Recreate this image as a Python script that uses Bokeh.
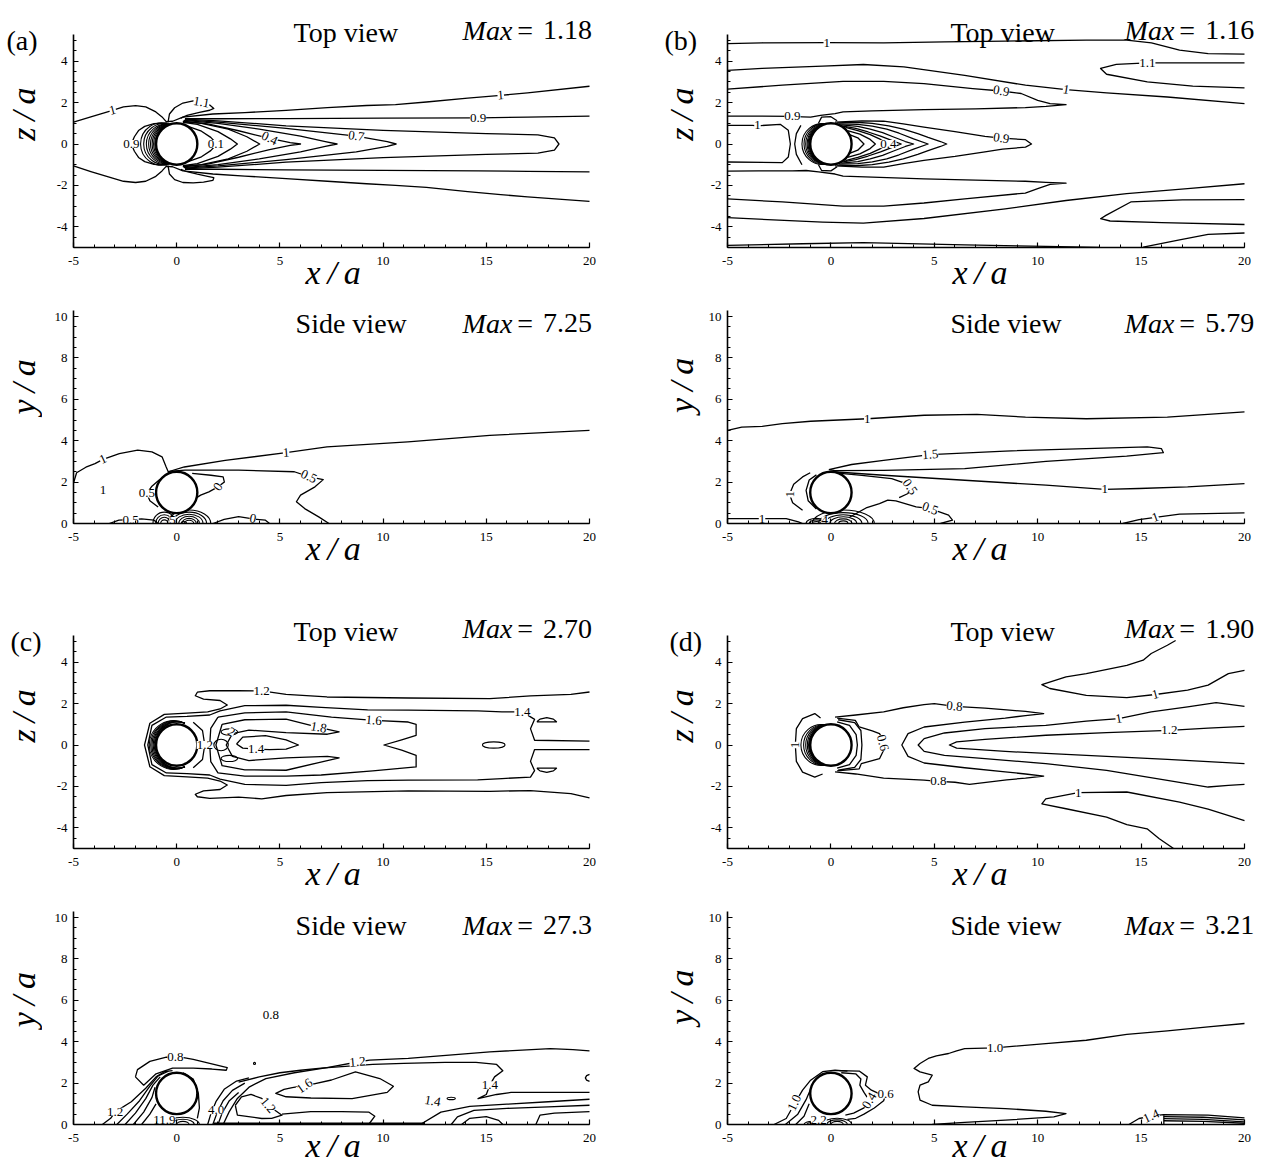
import math
from bokeh.plotting import figure
from bokeh.layouts import column, row
from bokeh.models import Label, FixedTicker, Range1d
from bokeh.core.properties import value
from bokeh.embed import file_html
from bokeh.resources import INLINE

SERIF = "Liberation Serif"

# ---------------------------------------------------------------- axes
X_TICKS = [-5, 0, 5, 10, 15, 20]
X_MINOR = [-5, -4, -3, -2, -1, 0, 1, 2, 3, 4, 5, 6, 7, 8, 9, 10,
           11, 12, 13, 14, 15, 16, 17, 18, 19, 20]
TOP_Y_TICKS = [-4, -2, 0, 2, 4]
TOP_Y_MINOR = [-5.0, -4.5, -4.0, -3.5, -3.0, -2.5, -2.0, -1.5, -1.0, -0.5, 0.0,
               0.5, 1.0, 1.5, 2.0, 2.5, 3.0, 3.5, 4.0, 4.5, 5.0]
SIDE_Y_TICKS = [0, 2, 4, 6, 8, 10]
SIDE_Y_MINOR = [0.0, 0.5, 1.0, 1.5, 2.0, 2.5, 3.0, 3.5, 4.0, 4.5, 5.0, 5.5, 6.0,
                6.5, 7.0, 7.5, 8.0, 8.5, 9.0, 9.5, 10.0]
X_SPAN = (-5, 20)
TOP_Y_SPAN = (-5, 5.3)
SIDE_Y_SPAN = (0, 10.27)
# plain hyphen for negative tick labels
X_TICK_TEXT = {-5: "-5"}
TOP_Y_TICK_TEXT = {-4: "-4", -2: "-2"}

PANEL_TAGS = ["(a)", "(b)", "(c)", "(d)"]
TOP_MAX = ["1.18", "1.16", "2.70", "1.90"]
SIDE_MAX = ["7.25", "5.79", "27.3", "3.21"]

# ---------------------------------------------------------------- case (a), top view
a_top_one_up = [(-5.0, 1.06), (-4.16, 1.31), (-3.27, 1.58), (-2.58, 1.79), (-1.99, 1.85), (-1.5, 1.79),
                (-1.01, 1.55), (-0.71, 1.31), (-0.51, 1.08), (-0.2, 1.1), (0.3, 1.3), (1.75, 1.45),
                (3.3, 1.52), (5.3, 1.62), (7.3, 1.76), (9.2, 1.86), (10.6, 1.9), (12.1, 2.03),
                (14.1, 2.22), (15.7, 2.35), (17.0, 2.47), (20.0, 2.79)]
a_top_one_dn = [(-5.0, -1.06), (-4.16, -1.33), (-3.27, -1.6), (-2.58, -1.8), (-1.99, -1.86), (-1.5, -1.8),
                (-1.01, -1.56), (-0.71, -1.3), (-0.51, -1.08), (-0.2, -1.1), (0.3, -1.3), (1.75, -1.45),
                (3.3, -1.55), (5.3, -1.67), (7.3, -1.8), (9.2, -1.92), (10.6, -2.0), (12.1, -2.1),
                (14.1, -2.3), (15.7, -2.45), (17.0, -2.55), (20.0, -2.77)]
a_top_11_up = [(-0.42, 1.05), (-0.35, 1.45), (-0.1, 1.75), (0.3, 1.98), (0.8, 2.08), (1.2, 2.02),
               (1.6, 1.88), (1.8, 1.72), (1.6, 1.63), (1.1, 1.53), (0.5, 1.38), (0.2, 1.25)]
a_top_11_dn = [(-0.42, -1.05), (-0.35, -1.45), (-0.1, -1.72), (0.3, -1.86), (0.8, -1.88), (1.3, -1.84),
               (1.75, -1.76), (1.8, -1.63), (1.5, -1.56), (1.0, -1.46), (0.5, -1.34), (0.2, -1.22)]
a_top_09_front = [(-0.45, 1.02), (-1.1, 0.98), (-1.55, 0.85), (-1.85, 0.65), (-2.05, 0.35), (-2.2, 0.0),
                  (-2.05, -0.35), (-1.85, -0.65), (-1.55, -0.85), (-1.1, -0.98), (-0.45, -1.02)]
a_top_09_up = [(0.4, 1.22), (2.0, 1.22), (5.3, 1.23), (10.0, 1.25), (14.6, 1.26), (17.0, 1.3), (20.0, 1.35)]
a_top_09_dn = [(0.4, -1.22), (2.0, -1.22), (5.3, -1.25), (10.0, -1.27), (14.6, -1.3), (17.0, -1.32), (20.0, -1.35)]
a_top_wake_01 = [(0.55, 0.85), (1.2, 0.62), (1.65, 0.32), (1.95, 0.0), (1.65, -0.32), (1.2, -0.62), (0.55, -0.85)]
a_top_wake_02 = [(0.3, 1.05), (1.0, 0.95), (2.0, 0.6), (2.6, 0.25), (2.94, 0.0), (2.6, -0.25), (2.0, -0.6),
                 (1.0, -0.95), (0.3, -1.05)]
a_top_wake_03 = [(0.3, 1.08), (1.2, 1.0), (2.5, 0.72), (3.4, 0.35), (4.02, 0.0), (3.4, -0.35), (2.5, -0.72),
                 (1.2, -1.0), (0.3, -1.08)]
a_top_wake_04 = [(0.3, 1.1), (1.5, 0.97), (3.0, 0.64), (4.5, 0.27), (5.5, 0.07), (6.0, 0.0), (5.5, -0.07),
                 (4.5, -0.27), (3.0, -0.64), (1.5, -0.97), (0.3, -1.1)]
a_top_wake_05 = [(0.35, 1.14), (2.0, 1.0), (4.0, 0.72), (6.0, 0.38), (7.2, 0.12), (7.77, 0.0), (7.2, -0.12),
                 (6.0, -0.38), (4.0, -0.72), (2.0, -1.0), (0.35, -1.14)]
a_top_wake_07 = [(0.4, 1.17), (2.0, 1.06), (5.3, 0.75), (8.7, 0.38), (10.2, 0.12), (10.63, 0.0), (10.2, -0.12),
                 (8.7, -0.38), (5.3, -0.75), (2.0, -1.06), (0.4, -1.17)]
a_top_wake_08 = [(0.4, 1.2), (2.0, 1.12), (5.3, 0.88), (10.0, 0.66), (15.0, 0.5), (17.5, 0.44), (18.3, 0.3),
                 (18.52, 0.0), (18.3, -0.3), (17.5, -0.44), (15.0, -0.5), (10.0, -0.66), (5.3, -0.88),
                 (2.0, -1.12), (0.4, -1.2)]
a_top_front_reach = [1.75, 1.6, 1.47, 1.36, 1.27, 1.19, 1.12, 1.06]
a_top_tags = [("1", -3.1, 1.63, 15), ("1.1", 1.2, 2.02, -10), ("1", 15.7, 2.35, 5), ("0.9", 14.6, 1.26, 0),
              ("0.9", -2.2, 0.0, 0), ("0.1", 1.9, 0.0, 0), ("0.4", 4.5, 0.27, -25), ("0.7", 8.7, 0.38, -8)]

# ---------------------------------------------------------------- case (a), side view
a_side_one = [(-5.0, 1.95), (-4.85, 2.45), (-4.4, 2.72), (-3.96, 2.89), (-3.57, 3.1), (-2.78, 3.38),
              (-1.89, 3.54), (-1.2, 3.46), (-0.71, 3.22), (-0.51, 2.73), (-0.41, 2.5), (0.37, 2.73),
              (2.35, 3.05), (5.3, 3.42), (7.28, 3.7), (11.2, 3.94), (15.17, 4.26), (20.0, 4.5)]
a_side_05 = [(-0.35, 2.52), (0.4, 2.58), (3.0, 2.58), (5.7, 2.5), (6.4, 2.27), (7.1, 2.12), (6.7, 1.77),
             (6.0, 1.37), (5.8, 1.05), (6.2, 0.72), (6.88, 0.32), (7.38, 0.0)]
a_side_0_right = [(0.75, 2.42), (1.66, 2.33), (2.25, 2.25), (2.31, 2.0), (2.0, 1.77), (1.56, 1.53),
                  (1.16, 1.37), (0.97, 1.25)]
a_side_05_left = [(-0.5, 2.35), (-0.85, 2.1), (-1.2, 1.8), (-1.45, 1.45), (-1.3, 1.1), (-0.9, 0.8)]
a_side_05_ground = [(-3.27, 0.0), (-2.8, 0.16), (-2.23, 0.19), (-1.7, 0.22), (-1.1, 0.16), (-0.9, 0.0)]
a_side_0_ground = [(1.76, 0.0), (2.3, 0.2), (3.0, 0.33), (3.69, 0.22), (4.3, 0.16), (4.5, 0.0)]
a_side_loop_x = [-0.6, -0.6, -0.6, -0.6, 0.6, 0.6, 0.6, 0.6, 0.6, 0.6, 0.35]
a_side_loop_w = [1.1, 0.85, 0.6, 0.35, 2.1, 1.7, 1.35, 1.0, 0.7, 0.45, 0.25]
a_side_loop_h = [1.1, 0.85, 0.6, 0.35, 1.3, 1.1, 0.9, 0.7, 0.5, 0.32, 0.18]
a_side_tags = [("1", -3.57, 3.1, 25), ("1", 5.3, 3.42, 5), ("0.5", 6.4, 2.27, -25), ("0", 2.0, 1.77, 55),
               ("0.5", -1.45, 1.45, 0), ("0.5", -2.23, 0.19, 0), ("0", 3.69, 0.24, -10), ("5", -0.2, 0.16, 0)]
a_side_free = [("1", -3.57, 1.6)]

# ---------------------------------------------------------------- case (b), top view
b_top_one_top = [(-5.0, 4.85), (-3.33, 4.89), (-0.2, 4.9), (2.55, 4.89), (5.5, 4.93), (8.43, 4.97),
                 (12.35, 5.02), (14.3, 5.02), (15.5, 4.89), (16.86, 4.53), (18.24, 4.37), (20.0, 4.34)]
b_top_one_up = [(-5.0, 3.56), (-3.33, 3.65), (-0.4, 3.76), (1.57, 3.84), (3.53, 3.73), (6.47, 3.32),
                (9.41, 2.84), (11.37, 2.63), (13.33, 2.47), (16.27, 2.27), (20.0, 1.95)]
b_top_09_up = [(-5.0, 2.65), (-2.35, 2.84), (0.59, 3.03), (2.55, 3.03), (4.5, 2.92), (6.86, 2.68),
               (8.24, 2.56), (9.2, 2.44), (10.0, 2.11), (10.6, 1.95), (11.37, 1.9), (10.4, 1.82),
               (9.4, 1.76), (7.0, 1.7), (4.5, 1.66), (2.0, 1.6), (0.59, 1.55), (0.2, 1.47), (-0.5, 1.38),
               (-0.98, 1.3), (-1.37, 1.31), (-1.86, 1.33), (-3.5, 1.35), (-5.0, 1.35)]
b_top_09_dn = [(-5.0, -1.31), (-3.5, -1.3), (-1.86, -1.3), (-1.2, -1.28), (-0.6, -1.35), (0.2, -1.45),
               (0.59, -1.55), (2.0, -1.6), (4.5, -1.68), (7.0, -1.75), (9.4, -1.8), (10.4, -1.85),
               (11.37, -1.89), (10.6, -1.95), (10.0, -2.16), (9.4, -2.37), (6.47, -2.65), (4.5, -2.85),
               (2.55, -3.0), (0.59, -3.0), (-2.35, -2.8), (-5.0, -2.65)]
b_top_one_dn = [(-5.0, -3.56), (-2.0, -3.7), (-0.4, -3.77), (1.57, -3.82), (4.5, -3.6), (8.43, -3.13),
                (11.37, -2.73), (14.3, -2.4), (17.25, -2.16), (20.0, -1.92)]
b_top_one_bot = [(-5.0, -4.9), (-1.37, -4.82), (1.57, -4.76), (6.47, -4.87), (10.4, -4.95), (13.0, -4.99)]
b_top_one_bot_r = [(15.1, -4.98), (16.86, -4.63), (18.24, -4.37), (20.0, -4.3)]
b_top_11_up = [(20.0, 3.92), (15.3, 3.92), (13.8, 3.85), (13.04, 3.65), (13.33, 3.37), (15.3, 3.0),
               (17.5, 2.8), (20.0, 2.71)]
b_top_11_dn = [(20.0, -2.69), (17.0, -2.7), (14.5, -2.8), (13.3, -3.45), (13.04, -3.61), (13.5, -3.72),
               (16.0, -3.8), (20.0, -3.89)]
b_top_one_box = [(-5.0, 0.9), (-3.8, 0.9), (-3.53, 0.88), (-2.45, 0.95), (-2.06, 0.66), (-1.96, 0.0),
                 (-2.06, -0.63), (-2.35, -0.9), (-5.0, -0.87)]
b_top_front = [(-1.45, 0.9), (-1.67, 0.5), (-1.75, 0.0), (-1.67, -0.5), (-1.4, -1.0)]
b_top_cap_up = [(-0.6, 1.0), (-0.45, 1.3), (0.0, 1.32), (0.3, 1.12)]
b_top_cap_dn = [(-0.6, -1.0), (-0.45, -1.28), (0.0, -1.3), (0.3, -1.1)]
b_top_wake_09 = [(0.2, 1.06), (1.5, 1.12), (2.55, 1.1), (3.5, 0.97), (4.5, 0.82), (6.0, 0.6), (7.45, 0.37),
                 (8.24, 0.28), (9.41, 0.21), (9.7, 0.0), (9.41, -0.15), (8.3, -0.25), (7.45, -0.38),
                 (6.0, -0.6), (4.5, -0.79), (3.5, -0.95), (2.55, -1.12), (1.5, -1.12), (0.2, -1.06)]
b_top_wake_08 = [(0.3, 1.02), (1.2, 1.05), (2.0, 1.0), (2.8, 0.88), (3.5, 0.72), (4.2, 0.5), (4.7, 0.32),
                 (5.3, 0.12), (5.6, 0.0), (5.3, -0.12), (4.7, -0.32), (4.2, -0.5), (3.5, -0.72),
                 (2.8, -0.88), (2.0, -1.0), (1.2, -1.05), (0.3, -1.02)]
b_top_wake_07 = [(0.4, 0.97), (1.3, 0.95), (2.0, 0.86), (2.7, 0.72), (3.3, 0.52), (4.0, 0.25), (4.7, 0.0),
                 (4.0, -0.25), (3.3, -0.52), (2.7, -0.72), (2.0, -0.86), (1.3, -0.95), (0.4, -0.97)]
b_top_wake_06 = [(0.5, 0.92), (1.3, 0.85), (1.9, 0.72), (2.5, 0.55), (3.0, 0.35), (3.6, 0.12), (4.0, 0.0),
                 (3.6, -0.12), (3.0, -0.35), (2.5, -0.55), (1.9, -0.72), (1.3, -0.85), (0.5, -0.92)]
b_top_wake_05 = [(0.6, 0.86), (1.2, 0.75), (1.8, 0.58), (2.4, 0.38), (3.0, 0.15), (3.4, 0.0), (3.0, -0.15),
                 (2.4, -0.38), (1.8, -0.58), (1.2, -0.75), (0.6, -0.86)]
b_top_wake_04 = [(0.7, 0.8), (1.3, 0.65), (1.9, 0.45), (2.4, 0.22), (2.78, 0.0), (2.4, -0.22), (1.9, -0.45),
                 (1.3, -0.65), (0.7, -0.8)]
b_top_wake_03 = [(0.8, 0.65), (1.4, 0.48), (1.9, 0.22), (2.15, 0.0), (1.9, -0.22), (1.4, -0.48), (0.8, -0.65)]
b_top_wake_02 = [(0.9, 0.45), (1.3, 0.3), (1.6, 0.0), (1.3, -0.3), (0.9, -0.45)]
b_top_front_reach = [1.4, 1.3, 1.22, 1.15, 1.1, 1.06, 1.03]
b_top_tags = [("1", -0.2, 4.9, 0), ("1", 11.37, 2.63, -10), ("0.9", 8.24, 2.56, -10), ("0.9", -1.86, 1.33, 0),
              ("1", -3.55, 0.9, 0), ("1.1", 15.3, 3.92, 0), ("0.9", 8.24, 0.28, -8), ("0.4", 2.78, 0.0, 0)]

# ---------------------------------------------------------------- case (b), side view
b_side_one_top = [(-5.0, 4.5), (-4.31, 4.66), (-3.33, 4.69), (-2.35, 4.82), (-0.98, 4.94), (1.76, 5.06),
                  (4.51, 5.23), (7.06, 5.27), (9.41, 5.14), (12.35, 5.06), (16.27, 5.14), (20.0, 5.39)]
b_side_15 = [(-0.1, 2.6), (1.0, 2.85), (2.55, 3.05), (4.8, 3.33), (8.43, 3.5), (12.35, 3.62), (15.3, 3.7),
             (15.98, 3.62), (16.08, 3.42), (14.3, 3.25), (10.4, 3.0), (6.47, 2.65), (2.55, 2.57),
             (0.2, 2.55), (-0.1, 2.6)]
b_side_one_mid = [(0.1, 2.5), (2.55, 2.33), (6.47, 2.09), (10.4, 1.85), (13.24, 1.65), (14.9, 1.69),
                  (17.25, 1.77), (20.0, 1.93)]
b_side_05_a = [(0.2, 2.45), (1.5, 2.32), (2.94, 2.17), (3.53, 1.96), (3.82, 1.77), (3.73, 1.45), (3.3, 1.25)]
b_side_05_b = [(0.9, 0.3), (1.7, 0.75), (2.35, 0.96), (2.75, 1.13), (3.14, 1.09), (4.12, 0.8), (4.8, 0.72),
               (5.69, 0.4), (5.88, 0.16), (5.3, 0.0)]
b_side_arc_1 = [(-1.0, 2.45), (-1.37, 2.25), (-1.8, 1.9), (-2.0, 1.41), (-1.85, 1.0), (-1.37, 0.64)]
b_side_arc_2 = [(-0.7, 2.35), (-1.05, 2.1), (-1.2, 1.6), (-1.1, 1.1), (-0.7, 0.7)]
b_side_one_gl = [(-5.0, 0.24), (-3.33, 0.24), (-2.16, 0.24), (-1.57, 0.08), (-1.37, 0.0)]
b_side_one_gr = [(14.12, 0.0), (14.9, 0.19), (15.69, 0.3), (16.86, 0.45), (20.0, 0.51)]
b_side_loop_x = [-0.7, -0.7, -0.7, 0.6, 0.6, 0.6, 0.6, 0.6, 0.6]
b_side_loop_w = [1.0, 0.7, 0.4, 3.0, 2.4, 1.8, 1.3, 0.85, 0.45]
b_side_loop_h = [0.5, 0.35, 0.2, 1.3, 1.05, 0.85, 0.65, 0.45, 0.25]
b_side_tags = [("1", 1.76, 5.06, 0), ("1.5", 4.8, 3.33, 5), ("1", 13.24, 1.65, 0), ("0.5", 3.82, 1.77, -55),
               ("0.5", 4.8, 0.72, -20), ("1", -2.0, 1.41, 90), ("1", -3.33, 0.24, 0), ("1", 15.69, 0.3, 20),
               ("4", -0.3, 0.16, 0)]

# ---------------------------------------------------------------- case (c), top view
c_top_12 = [(20.0, 2.56), (19.1, 2.45), (17.14, 2.37), (15.17, 2.24), (11.22, 2.27), (7.28, 2.32),
            (5.3, 2.45), (4.12, 2.61), (3.0, 2.62), (1.6, 2.62), (1.0, 2.55), (0.9, 2.38), (1.3, 2.22),
            (2.1, 2.15), (2.45, 1.93), (2.1, 1.74), (1.5, 1.6), (0.5, 1.54), (-0.6, 1.48), (-1.3, 1.05),
            (-1.56, 0.0), (-1.3, -1.05), (-0.6, -1.48), (0.5, -1.54), (1.5, -1.6), (2.1, -1.74),
            (2.45, -1.93), (2.1, -2.15), (1.3, -2.22), (0.9, -2.38), (1.0, -2.5), (1.6, -2.58),
            (3.0, -2.52), (4.12, -2.6), (5.3, -2.44), (7.28, -2.3), (11.22, -2.22), (15.17, -2.24),
            (17.14, -2.2), (19.1, -2.35), (20.0, -2.56)]
c_top_14 = [(20.0, 0.19), (17.34, 0.23), (17.14, 0.79), (17.34, 1.24), (16.75, 1.6), (15.76, 1.6),
            (14.58, 1.65), (11.22, 1.68), (9.25, 1.7), (7.0, 1.82), (5.3, 1.92), (3.3, 1.9), (2.1, 1.65),
            (1.6, 1.45), (0.5, 1.38), (-0.5, 1.35), (-1.2, 0.95), (-1.4, 0.0), (-1.2, -0.95),
            (-0.5, -1.35), (0.5, -1.38), (1.6, -1.45), (2.1, -1.65), (3.3, -1.9), (5.3, -1.95),
            (7.0, -1.82), (9.25, -1.72), (11.22, -1.7), (14.58, -1.68), (15.76, -1.62), (17.14, -1.55),
            (17.34, -1.24), (17.14, -0.79), (17.34, -0.22), (20.0, -0.22)]
c_top_16 = [(2.0, 1.35), (3.3, 1.55), (5.3, 1.6), (7.5, 1.35), (9.55, 1.19), (11.22, 1.11), (11.6, 1.0),
            (11.6, 0.47), (10.9, 0.25), (10.04, 0.0), (10.9, -0.25), (11.6, -0.5), (11.6, -1.06),
            (9.5, -1.25), (7.0, -1.45), (5.3, -1.5), (3.3, -1.5), (2.0, -1.35), (1.65, -0.8), (1.6, 0.0),
            (1.65, 0.8), (2.0, 1.35)]
c_top_18 = [(2.2, 1.0), (3.3, 1.22), (5.3, 1.25), (6.88, 0.85), (7.87, 0.63), (7.3, 0.52), (5.3, 0.6),
            (3.5, 0.72), (2.7, 0.55), (2.4, 0.0), (2.7, -0.55), (3.5, -0.75), (5.3, -0.62), (7.3, -0.55),
            (7.87, -0.62), (6.88, -0.85), (5.3, -1.22), (3.3, -1.2), (2.2, -1.0), (1.9, 0.0), (2.2, 1.0)]
c_top_14_in = [(2.9, 0.05), (3.2, 0.38), (4.3, 0.45), (5.3, 0.25), (5.9, 0.0), (5.3, -0.2), (4.5, -0.22),
               (3.85, -0.2), (3.2, -0.15), (2.9, 0.05)]
c_top_12_right = [(0.8, 1.1), (1.25, 0.7), (1.36, 0.0), (1.25, -0.7), (0.8, -1.1)]
c_top_dome_up = [(17.45, 1.12), (17.6, 1.25), (17.93, 1.32), (18.25, 1.25), (18.4, 1.12), (17.45, 1.12)]
c_top_dome_dn = [(17.45, -1.12), (17.6, -1.25), (17.93, -1.32), (18.25, -1.25), (18.4, -1.12), (17.45, -1.12)]
c_top_loop_x = [2.15, 2.55, 2.55, 15.36]
c_top_loop_y = [0.0, 0.63, -0.65, 0.0]
c_top_loop_w = [0.7, 0.8, 0.8, 1.1]
c_top_loop_h = [0.55, 0.3, 0.3, 0.3]
c_top_front_reach = [1.33, 1.26, 1.2, 1.14, 1.09, 1.05]
c_top_tags = [("1.2", 4.12, 2.61, 0), ("1.4", 16.75, 1.6, 0), ("1.6", 9.55, 1.19, -5), ("1.8", 6.88, 0.85, -10),
              ("1.4", 3.85, -0.2, 0), ("2", 2.64, 0.62, -30), ("1.2", 1.36, 0.0, 0)]

# ---------------------------------------------------------------- case (c), side view
c_side_12 = [(2.25, 0.0), (2.54, 0.61), (2.94, 1.26), (3.53, 1.82), (4.32, 2.22), (5.7, 2.5), (7.28, 2.75),
             (8.76, 3.02), (9.35, 3.11), (11.22, 3.19), (13.2, 3.35), (15.17, 3.51), (18.1, 3.67),
             (19.2, 3.62), (20.0, 3.56)]
c_side_14 = [(3.0, 2.05), (4.0, 2.3), (5.0, 2.5), (6.0, 2.62), (7.0, 2.72), (8.0, 2.8), (9.5, 2.9),
             (11.0, 2.95), (13.0, 3.0), (14.5, 3.0), (15.5, 2.9), (15.8, 2.6), (15.4, 2.3), (15.17, 1.9),
             (15.0, 1.45), (14.6, 1.25), (15.5, 1.45), (16.2, 1.55), (20.0, 1.55)]
c_side_16 = [(5.6, 1.78), (6.6, 1.95), (7.5, 2.15), (8.66, 2.54), (9.84, 2.22), (10.5, 1.85), (10.2, 1.55),
             (8.5, 1.25), (6.5, 1.28), (5.3, 1.34), (4.8, 1.5), (5.2, 1.7), (5.6, 1.78)]
c_side_12_in = [(2.84, 0.93), (3.14, 1.34), (3.6, 1.45), (4.12, 1.26), (4.42, 0.93), (5.1, 0.45), (4.6, 0.3),
                (4.12, 0.29), (2.94, 0.45), (2.84, 0.93)]
c_side_e = [(5.1, 0.5), (6.5, 0.62), (8.0, 0.62), (9.3, 0.6), (9.6, 0.4), (9.3, 0.0)]
c_side_f1 = [(11.8, 0.0), (12.8, 0.6), (14.2, 0.88), (16.0, 0.98), (18.0, 1.1), (20.0, 1.22)]
c_side_f2 = [(13.3, 0.0), (13.6, 0.37), (14.4, 0.68), (16.0, 0.78), (18.0, 0.85), (20.0, 0.93)]
c_side_f3 = [(13.8, 0.0), (14.2, 0.3), (15.0, 0.38), (15.6, 0.2), (15.8, 0.0)]
c_side_f4 = [(17.4, 0.0), (17.6, 0.45), (18.3, 0.55), (20.0, 0.62)]
c_side_edge = [(20.0, 2.42), (19.86, 2.36), (19.8, 2.25), (19.86, 2.14), (20.0, 2.08)]
c_side_08 = [(-2.0, 2.3), (-1.9, 2.65), (-1.3, 3.05), (-0.5, 3.25), (0.2, 3.25), (0.8, 3.15), (1.6, 2.95),
             (2.45, 2.75), (2.4, 2.62), (1.7, 2.68), (0.8, 2.72), (-0.2, 2.72), (-1.0, 2.45), (-1.6, 1.9),
             (-2.0, 2.3)]
c_side_fl1 = [(-3.6, 0.0), (-3.2, 0.3), (-2.98, 0.61), (-2.2, 1.1), (-1.5, 1.75), (-1.0, 2.3), (-0.6, 2.55),
              (-0.2, 2.6)]
c_side_fl2 = [(-2.9, 0.0), (-2.4, 0.5), (-1.8, 1.15), (-1.3, 1.85), (-0.9, 2.35), (-0.4, 2.58)]
c_side_fl3 = [(-2.5, 0.0), (-2.0, 0.55), (-1.5, 1.25), (-1.15, 1.9), (-0.8, 2.3)]
c_side_fl4 = [(-2.1, 0.0), (-1.6, 0.6), (-1.2, 1.3), (-1.05, 1.8)]
c_side_fl5 = [(-1.7, 0.0), (-1.3, 0.5), (-1.0, 1.0)]
c_side_fr0 = [(1.0, 0.3), (1.1, 0.8), (1.05, 1.5), (0.8, 2.2), (0.3, 2.5)]
c_side_fr1 = [(1.5, 0.0), (1.65, 0.5), (1.9, 1.1), (2.3, 1.7), (2.9, 2.1), (3.5, 2.25)]
c_side_fr2 = [(1.75, 0.0), (1.95, 0.55), (2.25, 1.15), (2.7, 1.65), (3.3, 2.0)]
c_side_fr3 = [(2.0, 0.0), (2.2, 0.55), (2.55, 1.15), (3.0, 1.55)]
c_side_wall = [(1.8, 0.04), (12.0, 0.04)]
c_side_loop_x = [0.3, 0.3, 0.3, 13.3, 3.77]
c_side_loop_y = [0.0, 0.0, 0.0, 1.26, 2.95]
c_side_loop_w = [1.6, 1.1, 0.6, 0.4, 0.1]
c_side_loop_h = [0.7, 0.5, 0.3, 0.12, 0.1]
c_side_tags = [("1.2", 8.76, 3.02, 5), ("1.4", 15.17, 1.9, 0), ("1.6", 6.2, 1.86, 35), ("1.2", 4.42, 0.93, -50),
               ("0.8", -0.06, 3.26, 0), ("1.2", -2.98, 0.61, 0), ("4.0", 1.91, 0.69, 0), ("11.9", -0.6, 0.2, 0),
               ("1.4", 12.4, 1.13, -10)]
c_side_free = [("0.8", 4.56, 5.28)]

# ---------------------------------------------------------------- case (d), top view
d_top_one_up = [(16.67, 5.05), (16.27, 4.82), (15.49, 4.42), (15.1, 4.1), (14.31, 3.85), (12.35, 3.45),
                (11.37, 3.29), (10.2, 2.92), (10.59, 2.73), (12.35, 2.4), (14.31, 2.29), (15.69, 2.44),
                (17.25, 2.65), (18.24, 2.89), (19.22, 3.45), (20.0, 3.61)]
d_top_one_dn = [(20.0, -3.65), (19.2, -3.4), (18.24, -3.1), (16.86, -2.76), (14.31, -2.27), (11.96, -2.3),
                (10.39, -2.6), (10.2, -2.84), (11.37, -3.08), (13.33, -3.48), (14.31, -3.85), (15.29, -4.05),
                (15.88, -4.53), (16.57, -5.0)]
d_top_08 = [(0.2, 1.35), (1.2, 1.45), (2.55, 1.6), (3.5, 1.8), (4.5, 1.95), (5.0, 2.0), (5.98, 1.87),
            (7.45, 1.78), (8.5, 1.7), (9.41, 1.62), (10.29, 1.52), (9.41, 1.42), (8.43, 1.3), (6.47, 1.11),
            (4.51, 0.87), (3.73, 0.55), (3.43, 0.0), (3.73, -0.55), (4.51, -0.87), (6.47, -1.1), (8.43, -1.3),
            (9.41, -1.4), (10.29, -1.5), (9.41, -1.6), (8.5, -1.68), (6.7, -1.9), (6.0, -1.8), (5.2, -1.76),
            (4.5, -1.7), (2.55, -1.6), (1.2, -1.4), (0.2, -1.3)]
d_top_one_in = [(20.0, 1.87), (18.63, 2.05), (17.25, 1.84), (15.49, 1.6), (13.92, 1.27), (12.35, 1.15),
                (10.39, 0.95), (7.45, 0.79), (5.49, 0.58), (4.51, 0.31), (4.22, 0.0), (4.51, -0.31),
                (5.49, -0.5), (7.45, -0.66), (10.39, -0.9), (13.33, -1.23), (16.27, -1.71), (18.24, -2.03),
                (19.22, -1.95), (20.0, -1.9)]
d_top_12 = [(20.0, 0.9), (18.24, 0.82), (16.37, 0.71), (13.33, 0.6), (10.39, 0.47), (7.45, 0.27), (6.08, 0.15),
            (5.73, 0.0), (6.08, -0.15), (8.43, -0.31), (12.35, -0.5), (16.27, -0.69), (20.0, -0.9)]
d_top_06 = [(0.3, 1.3), (1.18, 1.19), (1.37, 0.87), (2.0, 0.68), (2.35, 0.55), (2.55, 0.23), (2.55, -0.25),
            (2.35, -0.66), (1.47, -0.9), (1.37, -1.15), (0.3, -1.25)]
d_top_front = [(-0.5, 1.3), (-0.78, 1.52), (-1.37, 1.27), (-1.67, 0.79), (-1.72, 0.0), (-1.67, -0.79),
               (-1.37, -1.31), (-0.78, -1.55), (-0.4, -1.4)]
d_top_right_1 = [(0.3, 1.12), (0.9, 0.95), (1.22, 0.5), (1.28, 0.0), (1.22, -0.5), (0.9, -0.95), (0.3, -1.12)]
d_top_right_2 = [(0.35, 1.22), (1.15, 1.08), (1.45, 0.7), (1.5, 0.0), (1.45, -0.7), (1.15, -1.08), (0.35, -1.22)]
d_top_front_reach = [1.45, 1.32, 1.22, 1.14, 1.08, 1.04]
d_top_tags = [("1", 15.69, 2.44, 15), ("1", 11.96, -2.3, 0), ("0.8", 5.98, 1.87, -5), ("0.8", 5.2, -1.76, 0),
              ("1", 13.92, 1.27, 10), ("1.2", 16.37, 0.71, 0), ("0.6", 2.5, 0.1, -75), ("1", -1.72, 0.0, 90)]

# ---------------------------------------------------------------- case (d), side view
d_side_10 = [(20.0, 4.88), (18.24, 4.72), (16.27, 4.52), (14.31, 4.35), (12.35, 4.07), (10.39, 3.91),
             (7.94, 3.7), (6.47, 3.67), (6.08, 3.56), (5.69, 3.43), (5.1, 3.32), (4.71, 3.19), (4.31, 2.95),
             (4.02, 2.71), (4.31, 2.54), (4.9, 2.38), (4.71, 2.06), (4.31, 1.9), (4.22, 1.58), (4.31, 1.18),
             (4.9, 0.93), (6.47, 0.85), (8.43, 0.77), (10.39, 0.64), (11.37, 0.53), (10.78, 0.37),
             (8.43, 0.21), (6.47, 0.1), (4.9, 0.0)]
d_side_14 = [(14.41, 0.0), (14.9, 0.29), (15.49, 0.4), (16.08, 0.48), (18.24, 0.45), (20.0, 0.32)]
d_side_r0 = [(16.1, 0.0), (16.1, 0.45)]
d_side_r1 = [(16.1, 0.38), (18.0, 0.35), (20.0, 0.22)]
d_side_r2 = [(16.1, 0.28), (18.0, 0.25), (20.0, 0.13)]
d_side_r3 = [(16.1, 0.18), (18.0, 0.15), (20.0, 0.06)]
d_side_10_left = [(-2.75, 0.0), (-2.16, 0.29), (-1.76, 1.0), (-1.37, 1.66), (-0.98, 2.14), (-0.4, 2.55),
                  (0.2, 2.62), (0.8, 2.58)]
d_side_06 = [(0.4, 2.6), (1.37, 2.58), (1.76, 2.3), (1.67, 1.9), (1.96, 1.66), (2.3, 1.5), (2.65, 1.45),
             (2.55, 1.15), (2.1, 0.8), (1.6, 0.5), (1.2, 0.3), (0.8, 0.25)]
d_side_04 = [(0.5, 2.5), (1.2, 2.45), (1.45, 2.2), (1.4, 1.9), (1.6, 1.55), (1.86, 1.15), (1.6, 0.8),
             (1.1, 0.55), (0.7, 0.45)]
d_side_fl1 = [(-2.2, 0.0), (-1.6, 0.5), (-1.2, 1.2), (-0.9, 1.9), (-0.5, 2.35)]
d_side_fl2 = [(-1.7, 0.0), (-1.3, 0.4), (-1.05, 1.0)]
d_side_loop_x = [0.3, 0.3, 0.3, -0.9, -0.9]
d_side_loop_w = [1.4, 1.0, 0.6, 0.8, 0.5]
d_side_loop_h = [0.6, 0.45, 0.3, 0.3, 0.2]
d_side_tags = [("1.0", 7.94, 3.7, 0), ("1.4", 15.49, 0.4, 25), ("1.0", -1.76, 1.05, 65), ("0.6", 2.65, 1.45, 0),
               ("0.4", 1.86, 1.15, 60), ("2.2", -0.59, 0.21, 0)]


# ---------------------------------------------------------------- drawing helpers
def draw_curves(p, curves, width=1.3):
    p.multi_line(xs=[[q[0] for q in c] for c in curves], ys=[[q[1] for q in c] for c in curves],
                 line_color="black", line_width=width, line_join="round")


def draw_loops(p, xs, ys, ws, hs):
    p.ellipse(x=xs, y=ys, width=ws, height=hs, fill_color=None, line_color="black", line_width=1.1)


def draw_front_arcs(p, reach, anchor, cy=0.0):
    # nested arcs ahead of the sphere, each passing through the anchor point
    # (and its mirror image) and reaching upstream to x = -L
    px, py = anchor
    cxs, rs, a0s, a1s = [], [], [], []
    for L in reach:
        c = (px * px + py * py - L * L) / (2.0 * (L + px))
        r = c + L
        ang = math.atan2(py, px - c)
        cxs.append(c)
        rs.append(r)
        a0s.append(ang)
        a1s.append(2 * math.pi - ang)
    p.arc(x=cxs, y=[cy] * len(cxs), radius=rs, start_angle=a0s, end_angle=a1s,
          direction="anticlock", line_color="black", line_width=1.1)


def draw_sphere(p, cy):
    p.ellipse(x=[0], y=[cy], width=2.0, height=2.0, fill_color="white",
              line_color="black", line_width=2.4)


def draw_tags(p, tags):
    p.text(x=[t[1] for t in tags], y=[t[2] for t in tags], text=[t[0] for t in tags],
           angle=[t[3] for t in tags], angle_units="deg", text_font=value(SERIF),
           text_font_size="13px", text_align="center", text_baseline="middle",
           text_color="black", background_fill_color="white")


def draw_free(p, items):
    p.text(x=[t[1] for t in items], y=[t[2] for t in items], text=[t[0] for t in items],
           text_font=value(SERIF), text_font_size="13px", text_align="center",
           text_baseline="middle", text_color="black")


def label(p, x, y, text, size="28px", style="normal"):
    p.add_layout(Label(x=x, y=y, text=text, text_font=SERIF, text_font_size=size,
                       text_font_style=style, text_align="left", text_baseline="alphabetic",
                       text_color="black"))


# horizontal layout of the two columns: [strip | plot]
# the x label is centred on the frame, so trailing blank space pulls it
# back to the middle of the drawn axis
COLS = [
    dict(strip=42, left=31, frame=543, right=22, px_per_unit=20.64, xlab_pad="\u2002\u2009"),
    dict(strip=65, left=24, frame=539, right=9, px_per_unit=20.68, xlab_pad="\u2003"),
]
PX_PER_UNIT_Y = 20.7


def make_main(col, kind, frame_h, bottom_b, xlab_standoff):
    c = COLS[col]
    x_end = X_SPAN[0] + c["frame"] / c["px_per_unit"]
    if kind == "top":
        yr = (TOP_Y_SPAN[0], TOP_Y_SPAN[0] + frame_h / PX_PER_UNIT_Y)
    else:
        yr = (SIDE_Y_SPAN[0], SIDE_Y_SPAN[0] + frame_h / PX_PER_UNIT_Y)
    p = figure(width=c["left"] + c["frame"] + c["right"], height=frame_h + bottom_b,
               x_range=Range1d(X_SPAN[0], x_end), y_range=Range1d(*yr),
               min_border_left=c["left"], min_border_right=c["right"],
               min_border_top=0, min_border_bottom=bottom_b,
               output_backend="svg", toolbar_location=None)
    p.outline_line_color = None
    p.xgrid.visible = False
    p.ygrid.visible = False
    p.background_fill_color = "white"
    p.border_fill_color = "white"
    p.xaxis.ticker = FixedTicker(ticks=X_TICKS, minor_ticks=X_MINOR)
    p.xaxis.bounds = X_SPAN
    p.xaxis.major_label_overrides = X_TICK_TEXT
    if kind == "top":
        p.yaxis.ticker = FixedTicker(ticks=TOP_Y_TICKS, minor_ticks=TOP_Y_MINOR)
        p.yaxis.bounds = TOP_Y_SPAN
        p.yaxis.major_label_overrides = TOP_Y_TICK_TEXT
    else:
        p.yaxis.ticker = FixedTicker(ticks=SIDE_Y_TICKS, minor_ticks=SIDE_Y_MINOR)
        p.yaxis.bounds = SIDE_Y_SPAN
    for ax in (p.xaxis[0], p.yaxis[0]):
        ax.axis_line_width = 1.6
        ax.major_tick_in = 5
        ax.major_tick_out = 0
        ax.minor_tick_in = 3
        ax.minor_tick_out = 0
        ax.major_tick_line_width = 1.2
        ax.minor_tick_line_width = 1.0
        ax.major_label_text_font = SERIF
        ax.major_label_text_font_size = "13px"
        ax.major_label_text_color = "black"
    p.xaxis.major_label_standoff = 9
    p.yaxis.major_label_standoff = 6
    p.xaxis.axis_label = "x\u2009/\u2009a" + c["xlab_pad"]
    p.xaxis.axis_label_text_font = SERIF
    p.xaxis.axis_label_text_font_style = "italic"
    p.xaxis.axis_label_text_font_size = "34px"
    p.xaxis.axis_label_text_color = "black"
    p.xaxis.axis_label_standoff = xlab_standoff
    return p


def make_strip(col, height, tag, tag_xy, ylab, ylab_xy):
    w = COLS[col]["strip"]
    s = figure(width=w, height=height, x_range=Range1d(0, w), y_range=Range1d(height, 0),
               x_axis_type=None, y_axis_type=None, min_border=0,
               output_backend="svg", toolbar_location=None)
    s.outline_line_color = None
    s.background_fill_color = "white"
    s.border_fill_color = "white"
    if tag:
        s.text(x=[tag_xy[0]], y=[tag_xy[1]], text=[tag], text_font=value(SERIF),
               text_font_size="28px", text_align="left", text_baseline="alphabetic",
               text_color="black")
    s.text(x=[ylab_xy[0]], y=[ylab_xy[1]], text=[ylab], angle=90, angle_units="deg",
           text_font=value(SERIF), text_font_style="italic", text_font_size="34px",
           text_align="center", text_baseline="middle", text_color="black")
    return s


def add_titles(p, kind, col, num, row_idx):
    if kind == "top":
        base = 5.38 if row_idx == 0 else 5.46
        mbase = 5.49 if row_idx == 0 else 5.62
        label(p, 5.66 if col == 0 else 5.78, base, "Top view")
    else:
        base = 9.68 if row_idx == 1 else 9.63
        mbase = base
        label(p, 5.76 if col == 0 else 5.78, base, "Side view")
    mx = (13.85, 16.5, 17.75) if col == 0 else (14.2, 16.85, 18.1)
    label(p, mx[0], mbase, "Max", style="italic")
    label(p, mx[1], mbase, "=")
    label(p, mx[2], mbase, num)


# vertical layout: (kind, frame height, bottom border, x-label standoff)
ROWS = [("top", 247, 55, -14), ("side", 221, 67, -14), ("top", 258, 57, -14), ("side", 219, 44, -18)]

mains = {}
for r, (kind, fh, bb, so) in enumerate(ROWS):
    for col in (0, 1):
        mains[(r, col)] = make_main(col, kind, fh, bb, so)

# ---------------------------------------------------------------- (a)
p = mains[(0, 0)]
draw_curves(p, [a_top_one_up, a_top_one_dn, a_top_11_up, a_top_11_dn, a_top_09_front, a_top_09_up,
                a_top_09_dn, a_top_wake_01, a_top_wake_02, a_top_wake_03, a_top_wake_04, a_top_wake_05,
                a_top_wake_07, a_top_wake_08])
draw_front_arcs(p, a_top_front_reach, (-0.35, 0.95))
draw_sphere(p, 0.0)
draw_tags(p, a_top_tags)
add_titles(p, "top", 0, TOP_MAX[0], 0)

p = mains[(1, 0)]
draw_curves(p, [a_side_one, a_side_05, a_side_0_right, a_side_05_left, a_side_05_ground, a_side_0_ground])
draw_loops(p, a_side_loop_x, [0.0] * len(a_side_loop_x), a_side_loop_w, a_side_loop_h)
draw_sphere(p, 1.5)
draw_tags(p, a_side_tags)
draw_free(p, a_side_free)
add_titles(p, "side", 0, SIDE_MAX[0], 1)

# ---------------------------------------------------------------- (b)
p = mains[(0, 1)]
draw_curves(p, [b_top_one_top, b_top_one_up, b_top_09_up, b_top_09_dn, b_top_one_dn, b_top_one_bot,
                b_top_one_bot_r, b_top_11_up, b_top_11_dn, b_top_one_box, b_top_front, b_top_cap_up,
                b_top_cap_dn, b_top_wake_09, b_top_wake_08, b_top_wake_07, b_top_wake_06,
                b_top_wake_05, b_top_wake_04, b_top_wake_03, b_top_wake_02])
draw_front_arcs(p, b_top_front_reach, (-0.25, 0.97))
draw_sphere(p, 0.0)
draw_tags(p, b_top_tags)
add_titles(p, "top", 1, TOP_MAX[1], 0)

p = mains[(1, 1)]
draw_curves(p, [b_side_one_top, b_side_15, b_side_one_mid, b_side_05_a, b_side_05_b, b_side_arc_1,
                b_side_arc_2, b_side_one_gl, b_side_one_gr])
draw_loops(p, b_side_loop_x, [0.0] * len(b_side_loop_x), b_side_loop_w, b_side_loop_h)
draw_sphere(p, 1.5)
draw_tags(p, b_side_tags)
add_titles(p, "side", 1, SIDE_MAX[1], 1)

# ---------------------------------------------------------------- (c)
p = mains[(2, 0)]
draw_curves(p, [c_top_12, c_top_14, c_top_16, c_top_18, c_top_14_in, c_top_12_right, c_top_dome_up,
                c_top_dome_dn])
draw_loops(p, c_top_loop_x, c_top_loop_y, c_top_loop_w, c_top_loop_h)
draw_front_arcs(p, c_top_front_reach, (0.4, 1.05))
draw_sphere(p, 0.0)
draw_tags(p, c_top_tags)
add_titles(p, "top", 0, TOP_MAX[2], 2)

p = mains[(3, 0)]
draw_curves(p, [c_side_12, c_side_14, c_side_16, c_side_12_in, c_side_e, c_side_f1, c_side_f2, c_side_f3,
                c_side_f4, c_side_edge, c_side_08, c_side_fl1, c_side_fl2, c_side_fl3, c_side_fl4, c_side_fl5,
                c_side_fr0, c_side_fr1, c_side_fr2, c_side_fr3])
draw_curves(p, [c_side_wall], width=2.2)
draw_loops(p, c_side_loop_x, c_side_loop_y, c_side_loop_w, c_side_loop_h)
draw_sphere(p, 1.5)
draw_tags(p, c_side_tags)
draw_free(p, c_side_free)
add_titles(p, "side", 0, SIDE_MAX[2], 3)

# ---------------------------------------------------------------- (d)
p = mains[(2, 1)]
draw_curves(p, [d_top_one_up, d_top_one_dn, d_top_08, d_top_one_in, d_top_12, d_top_06, d_top_front,
                d_top_right_1, d_top_right_2])
draw_front_arcs(p, d_top_front_reach, (-0.3, 0.98))
draw_sphere(p, 0.0)
draw_tags(p, d_top_tags)
add_titles(p, "top", 1, TOP_MAX[3], 2)

p = mains[(3, 1)]
draw_curves(p, [d_side_10, d_side_14, d_side_r0, d_side_r1, d_side_r2, d_side_r3, d_side_10_left,
                d_side_06, d_side_04, d_side_fl1, d_side_fl2])
draw_loops(p, d_side_loop_x, [0.0] * len(d_side_loop_x), d_side_loop_w, d_side_loop_h)
draw_sphere(p, 1.5)
draw_tags(p, d_side_tags)
add_titles(p, "side", 1, SIDE_MAX[3], 3)

# ---------------------------------------------------------------- strips with panel tags and y labels
STRIP_SPECS = [
    # (tag index, tag position per column, y-label, y-label position per column)
    (0, [(6, 49), (26, 49)], "z\u2009/\u2009a", [(23, 139), (43, 139)]),
    (None, None, "y\u2009/\u2009a", [(23, 110), (43, 108)]),
    (2, [(10, 62), (31, 62)], "z\u2009/\u2009a", [(23, 153), (43, 153)]),
    (None, None, "y\u2009/\u2009a", [(23, 113), (43, 110)]),
]

rows = []
for r, (kind, fh, bb, so) in enumerate(ROWS):
    ti, tag_pos, ylab, ylab_pos = STRIP_SPECS[r]
    items = []
    for col in (0, 1):
        tag = PANEL_TAGS[ti + col] if ti is not None else None
        txy = tag_pos[col] if tag_pos else None
        items.append(make_strip(col, fh + bb, tag, txy, ylab, ylab_pos[col]))
        items.append(mains[(r, col)])
    rows.append(row(*items))

layout = column(*rows)

open("out.html", "w").write(file_html(layout, INLINE))
